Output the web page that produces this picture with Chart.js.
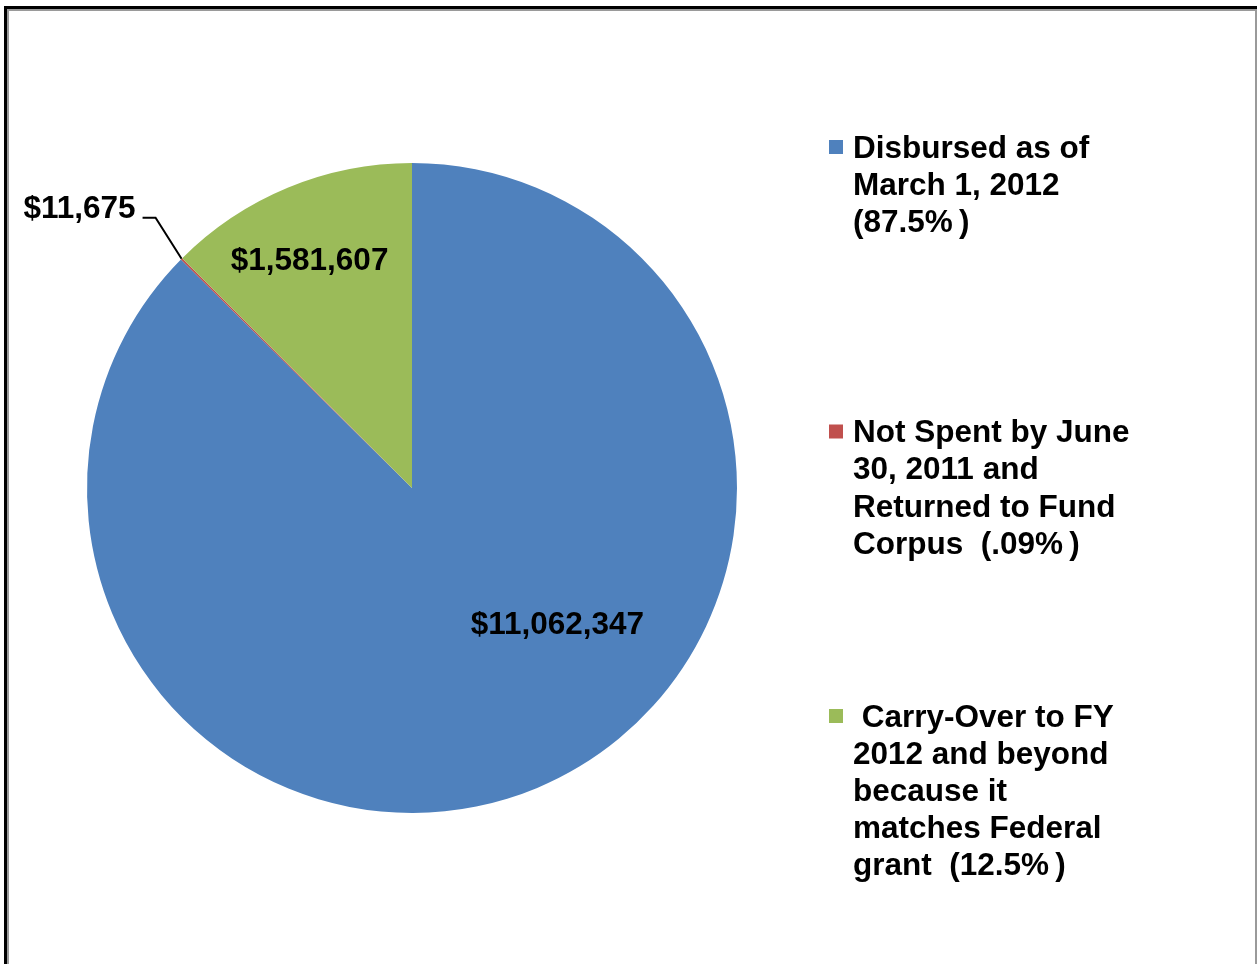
<!DOCTYPE html>
<html>
<head>
<meta charset="utf-8">
<script src="https://cdn.jsdelivr.net/npm/chart.js@4/dist/chart.umd.min.js"></script>
<style>
  html, body { margin: 0; padding: 0; background: #fff; overflow: hidden; }
  #wrap { position: relative; width: 1257px; height: 964px; }
  #frame { position: absolute; left: 4px; top: 6px; width: 1250px; height: 980px;
           border-top: 3px solid #000; border-left: 3px solid #000; }
  #frame div { position: absolute; left: 0; top: 0; right: 0; bottom: 0;
               border: 2px solid #9a9a9a; }
  canvas { position: absolute; left: 0; top: 0; }
</style>
</head>
<body>
<div id="wrap">
  <div id="frame"><div></div></div>
  <canvas id="myChart" width="1257" height="964"></canvas>
</div>
<script>
// legend text, one array of lines per category
const categories = [
    ['Disbursed as of', 'March 1, 2012', '(87.5%\u2009)'],
    ['Not Spent by June', '30, 2011 and', 'Returned to Fund', 'Corpus  (.09%\u2009)'],
    [' Carry-Over to FY', '2012 and beyond', 'because it', 'matches Federal', 'grant  (12.5%\u2009)']
];
const amounts = [11062347, 11675, 1581607];
const sliceColors = ['#4F81BD', '#C0504D', '#9BBB59'];

const FONT = 'bold 31.5px "Liberation Sans", Arial, sans-serif';

function money(v) {
    return '$' + v.toLocaleString('en-US');
}

// value labels on / beside the slices
const valueLabels = {
    id: 'valueLabels',
    afterDatasetsDraw(chart) {
        const ctx = chart.ctx;
        const arcs = chart.getDatasetMeta(0).data;
        const deg = Math.PI / 180;
        ctx.save();
        ctx.font = FONT;
        ctx.fillStyle = '#000';
        ctx.textBaseline = 'middle';
        arcs.forEach((arc, i) => {
            const mid = (arc.startAngle + arc.endAngle) / 2;
            const r = arc.outerRadius;
            if (i === 1) {
                // small slice: label outside with a leader line
                const ex = arc.x + Math.cos(mid) * r;
                const ey = arc.y + Math.sin(mid) * r;
                const kx = ex - 26, ky = ey - 41;
                ctx.strokeStyle = '#000';
                ctx.lineWidth = 2;
                ctx.beginPath();
                ctx.moveTo(ex, ey);
                ctx.lineTo(kx, ky);
                ctx.lineTo(kx - 13, ky);
                ctx.stroke();
                ctx.textAlign = 'right';
                ctx.fillText(money(amounts[i]), kx - 20, ky - 9);
            } else {
                let ang = mid - 1.5 * deg, frac = 0.775;
                if (i === 0) { ang = mid - 24.5 * deg; frac = 0.61; }
                ctx.textAlign = 'center';
                ctx.fillText(money(amounts[i]), arc.x + Math.cos(ang) * r * frac,
                             arc.y + Math.sin(ang) * r * frac + 3);
            }
        });
        ctx.restore();
    }
};

// legend on the right
const sideLegend = {
    id: 'sideLegend',
    afterDraw(chart) {
        const ctx = chart.ctx;
        ctx.save();
        ctx.font = FONT;
        ctx.textBaseline = 'middle';
        ctx.textAlign = 'left';
        categories.forEach((lines, i) => {
            const top = 147 + i * 284.5;
            ctx.fillStyle = sliceColors[i];
            ctx.fillRect(829, top - 7, 14, 14);
            ctx.fillStyle = '#000';
            lines.forEach((t, j) => ctx.fillText(t, 853, top + 2 + j * 37.2));
        });
        ctx.restore();
    }
};

const ctx = document.getElementById('myChart').getContext('2d');
new Chart(ctx, {
    type: 'pie',
    data: {
        labels: categories.map(c => c.join(' ')),
        datasets: [{
            data: amounts,
            backgroundColor: sliceColors,
            borderWidth: 0
        }]
    },
    options: {
        responsive: false,
        animation: false,
        layout: { padding: { left: 87, right: 520, top: 163, bottom: 151 } },
        plugins: {
            legend: { display: false },
            tooltip: { enabled: false }
        }
    },
    plugins: [valueLabels, sideLegend]
});
</script>
</body>
</html>
